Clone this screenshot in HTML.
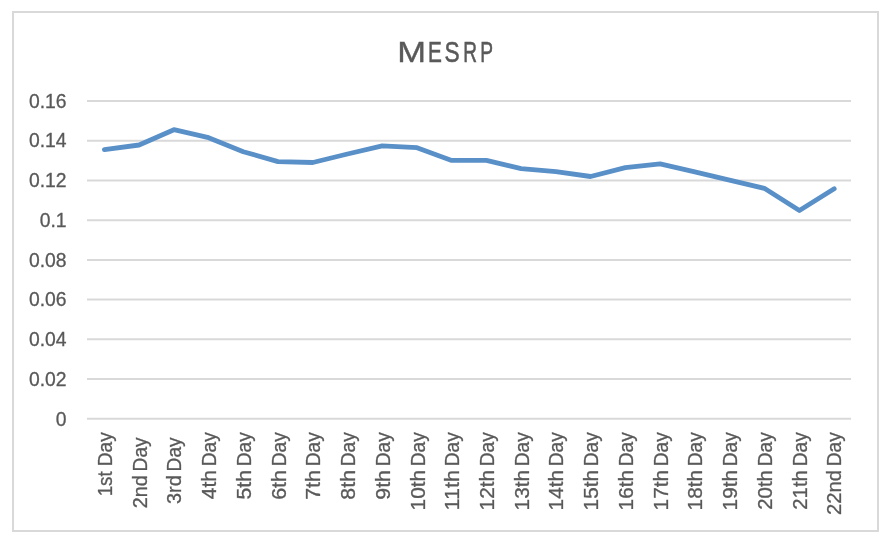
<!DOCTYPE html>
<html><head><meta charset="utf-8"><title>MESRP</title>
<style>html,body{margin:0;padding:0;background:#fff;}body{width:894px;height:539px;overflow:hidden;}svg{display:block;will-change:transform;}text{font-family:"Liberation Sans",sans-serif;fill:#595959;}</style></head><body>
<svg width="894" height="539" viewBox="0 0 894 539">
<rect x="0" y="0" width="894" height="539" fill="#ffffff"/>
<rect x="13" y="12" width="865" height="519" fill="none" stroke="#d9d9d9" stroke-width="2"/>
<line x1="87" y1="101.00" x2="851" y2="101.00" stroke="#d9d9d9" stroke-width="2"/>
<line x1="87" y1="140.72" x2="851" y2="140.72" stroke="#d9d9d9" stroke-width="2"/>
<line x1="87" y1="180.45" x2="851" y2="180.45" stroke="#d9d9d9" stroke-width="2"/>
<line x1="87" y1="220.18" x2="851" y2="220.18" stroke="#d9d9d9" stroke-width="2"/>
<line x1="87" y1="259.90" x2="851" y2="259.90" stroke="#d9d9d9" stroke-width="2"/>
<line x1="87" y1="299.62" x2="851" y2="299.62" stroke="#d9d9d9" stroke-width="2"/>
<line x1="87" y1="339.35" x2="851" y2="339.35" stroke="#d9d9d9" stroke-width="2"/>
<line x1="87" y1="379.07" x2="851" y2="379.07" stroke="#d9d9d9" stroke-width="2"/>
<line x1="87" y1="418.80" x2="851" y2="418.80" stroke="#d9d9d9" stroke-width="2"/>
<text x="66.6" y="107.75" font-size="19.5" text-anchor="end" textLength="37.62" lengthAdjust="spacingAndGlyphs" stroke="#595959" stroke-width="0.3">0.16</text>
<text x="66.6" y="147.47" font-size="19.5" text-anchor="end" textLength="37.62" lengthAdjust="spacingAndGlyphs" stroke="#595959" stroke-width="0.3">0.14</text>
<text x="66.6" y="187.20" font-size="19.5" text-anchor="end" textLength="37.62" lengthAdjust="spacingAndGlyphs" stroke="#595959" stroke-width="0.3">0.12</text>
<text x="66.6" y="226.93" font-size="19.5" text-anchor="end" textLength="26.87" lengthAdjust="spacingAndGlyphs" stroke="#595959" stroke-width="0.3">0.1</text>
<text x="66.6" y="266.65" font-size="19.5" text-anchor="end" textLength="37.62" lengthAdjust="spacingAndGlyphs" stroke="#595959" stroke-width="0.3">0.08</text>
<text x="66.6" y="306.38" font-size="19.5" text-anchor="end" textLength="37.62" lengthAdjust="spacingAndGlyphs" stroke="#595959" stroke-width="0.3">0.06</text>
<text x="66.6" y="346.10" font-size="19.5" text-anchor="end" textLength="37.62" lengthAdjust="spacingAndGlyphs" stroke="#595959" stroke-width="0.3">0.04</text>
<text x="66.6" y="385.82" font-size="19.5" text-anchor="end" textLength="37.62" lengthAdjust="spacingAndGlyphs" stroke="#595959" stroke-width="0.3">0.02</text>
<text x="66.6" y="425.55" font-size="19.5" text-anchor="end" textLength="10.75" lengthAdjust="spacingAndGlyphs" stroke="#595959" stroke-width="0.3">0</text>
<text transform="translate(397.37 61.65) scale(1.1585 1)" font-size="29.8" stroke="#595959" stroke-width="0.35">M</text>
<text transform="translate(427.90 61.65) scale(0.6985 1)" font-size="29.8" stroke="#595959" stroke-width="0.6">E</text>
<text transform="translate(444.40 61.65) scale(0.7603 1)" font-size="29.8" stroke="#595959" stroke-width="0.6">S</text>
<text transform="translate(463.23 61.65) scale(0.6396 1)" font-size="29.8" stroke="#595959" stroke-width="0.6">R</text>
<text transform="translate(480.22 61.65) scale(0.6440 1)" font-size="29.8" stroke="#595959" stroke-width="0.6">P</text>
<text transform="translate(112.00 496.33) rotate(-90)" font-size="19.4" textLength="25.07" lengthAdjust="spacingAndGlyphs" stroke="#595959" stroke-width="0.3">1st</text>
<text transform="translate(112.00 466.32) rotate(-90)" font-size="19.4" textLength="34.06" lengthAdjust="spacingAndGlyphs" stroke="#595959" stroke-width="0.3">Day</text>
<text transform="translate(146.73 508.19) rotate(-90)" font-size="19.4" textLength="32.97" lengthAdjust="spacingAndGlyphs" stroke="#595959" stroke-width="0.3">2nd</text>
<text transform="translate(146.73 471.42) rotate(-90)" font-size="19.4" textLength="34.06" lengthAdjust="spacingAndGlyphs" stroke="#595959" stroke-width="0.3">Day</text>
<text transform="translate(181.45 503.96) rotate(-90)" font-size="19.4" textLength="28.74" lengthAdjust="spacingAndGlyphs" stroke="#595959" stroke-width="0.3">3rd</text>
<text transform="translate(181.45 471.42) rotate(-90)" font-size="19.4" textLength="34.06" lengthAdjust="spacingAndGlyphs" stroke="#595959" stroke-width="0.3">Day</text>
<text transform="translate(216.18 499.18) rotate(-90)" font-size="19.4" textLength="29.14" lengthAdjust="spacingAndGlyphs" stroke="#595959" stroke-width="0.3">4th</text>
<text transform="translate(216.18 466.32) rotate(-90)" font-size="19.4" textLength="34.06" lengthAdjust="spacingAndGlyphs" stroke="#595959" stroke-width="0.3">Day</text>
<text transform="translate(250.91 499.55) rotate(-90)" font-size="19.4" textLength="29.53" lengthAdjust="spacingAndGlyphs" stroke="#595959" stroke-width="0.3">5th</text>
<text transform="translate(250.91 466.32) rotate(-90)" font-size="19.4" textLength="34.06" lengthAdjust="spacingAndGlyphs" stroke="#595959" stroke-width="0.3">Day</text>
<text transform="translate(285.63 499.79) rotate(-90)" font-size="19.4" textLength="29.78" lengthAdjust="spacingAndGlyphs" stroke="#595959" stroke-width="0.3">6th</text>
<text transform="translate(285.63 466.32) rotate(-90)" font-size="19.4" textLength="34.06" lengthAdjust="spacingAndGlyphs" stroke="#595959" stroke-width="0.3">Day</text>
<text transform="translate(320.36 499.80) rotate(-90)" font-size="19.4" textLength="29.79" lengthAdjust="spacingAndGlyphs" stroke="#595959" stroke-width="0.3">7th</text>
<text transform="translate(320.36 466.32) rotate(-90)" font-size="19.4" textLength="34.06" lengthAdjust="spacingAndGlyphs" stroke="#595959" stroke-width="0.3">Day</text>
<text transform="translate(355.09 499.63) rotate(-90)" font-size="19.4" textLength="29.61" lengthAdjust="spacingAndGlyphs" stroke="#595959" stroke-width="0.3">8th</text>
<text transform="translate(355.09 466.32) rotate(-90)" font-size="19.4" textLength="34.06" lengthAdjust="spacingAndGlyphs" stroke="#595959" stroke-width="0.3">Day</text>
<text transform="translate(389.82 499.70) rotate(-90)" font-size="19.4" textLength="29.69" lengthAdjust="spacingAndGlyphs" stroke="#595959" stroke-width="0.3">9th</text>
<text transform="translate(389.82 466.32) rotate(-90)" font-size="19.4" textLength="34.06" lengthAdjust="spacingAndGlyphs" stroke="#595959" stroke-width="0.3">Day</text>
<text transform="translate(424.54 510.38) rotate(-90)" font-size="19.4" textLength="40.32" lengthAdjust="spacingAndGlyphs" stroke="#595959" stroke-width="0.3">10th</text>
<text transform="translate(424.54 466.32) rotate(-90)" font-size="19.4" textLength="34.06" lengthAdjust="spacingAndGlyphs" stroke="#595959" stroke-width="0.3">Day</text>
<text transform="translate(459.27 510.38) rotate(-90)" font-size="19.4" textLength="40.32" lengthAdjust="spacingAndGlyphs" stroke="#595959" stroke-width="0.3">11th</text>
<text transform="translate(459.27 466.32) rotate(-90)" font-size="19.4" textLength="34.06" lengthAdjust="spacingAndGlyphs" stroke="#595959" stroke-width="0.3">Day</text>
<text transform="translate(494.00 510.38) rotate(-90)" font-size="19.4" textLength="40.32" lengthAdjust="spacingAndGlyphs" stroke="#595959" stroke-width="0.3">12th</text>
<text transform="translate(494.00 466.32) rotate(-90)" font-size="19.4" textLength="34.06" lengthAdjust="spacingAndGlyphs" stroke="#595959" stroke-width="0.3">Day</text>
<text transform="translate(528.72 510.38) rotate(-90)" font-size="19.4" textLength="40.32" lengthAdjust="spacingAndGlyphs" stroke="#595959" stroke-width="0.3">13th</text>
<text transform="translate(528.72 466.32) rotate(-90)" font-size="19.4" textLength="34.06" lengthAdjust="spacingAndGlyphs" stroke="#595959" stroke-width="0.3">Day</text>
<text transform="translate(563.45 510.38) rotate(-90)" font-size="19.4" textLength="40.32" lengthAdjust="spacingAndGlyphs" stroke="#595959" stroke-width="0.3">14th</text>
<text transform="translate(563.45 466.32) rotate(-90)" font-size="19.4" textLength="34.06" lengthAdjust="spacingAndGlyphs" stroke="#595959" stroke-width="0.3">Day</text>
<text transform="translate(598.18 510.38) rotate(-90)" font-size="19.4" textLength="40.32" lengthAdjust="spacingAndGlyphs" stroke="#595959" stroke-width="0.3">15th</text>
<text transform="translate(598.18 466.32) rotate(-90)" font-size="19.4" textLength="34.06" lengthAdjust="spacingAndGlyphs" stroke="#595959" stroke-width="0.3">Day</text>
<text transform="translate(632.90 510.38) rotate(-90)" font-size="19.4" textLength="40.32" lengthAdjust="spacingAndGlyphs" stroke="#595959" stroke-width="0.3">16th</text>
<text transform="translate(632.90 466.32) rotate(-90)" font-size="19.4" textLength="34.06" lengthAdjust="spacingAndGlyphs" stroke="#595959" stroke-width="0.3">Day</text>
<text transform="translate(667.63 510.38) rotate(-90)" font-size="19.4" textLength="40.32" lengthAdjust="spacingAndGlyphs" stroke="#595959" stroke-width="0.3">17th</text>
<text transform="translate(667.63 466.32) rotate(-90)" font-size="19.4" textLength="34.06" lengthAdjust="spacingAndGlyphs" stroke="#595959" stroke-width="0.3">Day</text>
<text transform="translate(702.36 510.38) rotate(-90)" font-size="19.4" textLength="40.32" lengthAdjust="spacingAndGlyphs" stroke="#595959" stroke-width="0.3">18th</text>
<text transform="translate(702.36 466.32) rotate(-90)" font-size="19.4" textLength="34.06" lengthAdjust="spacingAndGlyphs" stroke="#595959" stroke-width="0.3">Day</text>
<text transform="translate(737.09 510.38) rotate(-90)" font-size="19.4" textLength="40.32" lengthAdjust="spacingAndGlyphs" stroke="#595959" stroke-width="0.3">19th</text>
<text transform="translate(737.09 466.32) rotate(-90)" font-size="19.4" textLength="34.06" lengthAdjust="spacingAndGlyphs" stroke="#595959" stroke-width="0.3">Day</text>
<text transform="translate(771.81 509.83) rotate(-90)" font-size="19.4" textLength="39.75" lengthAdjust="spacingAndGlyphs" stroke="#595959" stroke-width="0.3">20th</text>
<text transform="translate(771.81 466.32) rotate(-90)" font-size="19.4" textLength="34.06" lengthAdjust="spacingAndGlyphs" stroke="#595959" stroke-width="0.3">Day</text>
<text transform="translate(806.54 509.83) rotate(-90)" font-size="19.4" textLength="39.75" lengthAdjust="spacingAndGlyphs" stroke="#595959" stroke-width="0.3">21th</text>
<text transform="translate(806.54 466.32) rotate(-90)" font-size="19.4" textLength="34.06" lengthAdjust="spacingAndGlyphs" stroke="#595959" stroke-width="0.3">Day</text>
<text transform="translate(841.27 515.02) rotate(-90)" font-size="19.4" textLength="44.92" lengthAdjust="spacingAndGlyphs" stroke="#595959" stroke-width="0.3">22nd</text>
<text transform="translate(841.27 466.32) rotate(-90)" font-size="19.4" textLength="34.06" lengthAdjust="spacingAndGlyphs" stroke="#595959" stroke-width="0.3">Day</text>
<path d="M104.4 149.6 L139.1 145.0 L173.9 129.7 L208.6 137.7 L243.3 151.7 L278.0 161.6 L312.8 162.5 L347.5 154.0 L382.2 145.8 L417.0 147.7 L451.7 160.4 L486.4 160.4 L521.1 168.6 L555.9 171.7 L590.6 176.5 L625.3 167.7 L660.1 163.8 L694.8 171.9 L729.5 180.1 L764.3 188.3 L799.4 210.5 L834.2 188.8" fill="none" stroke="#5a90c8" stroke-width="4.8" stroke-linecap="round" stroke-linejoin="round"/>
</svg></body></html>
